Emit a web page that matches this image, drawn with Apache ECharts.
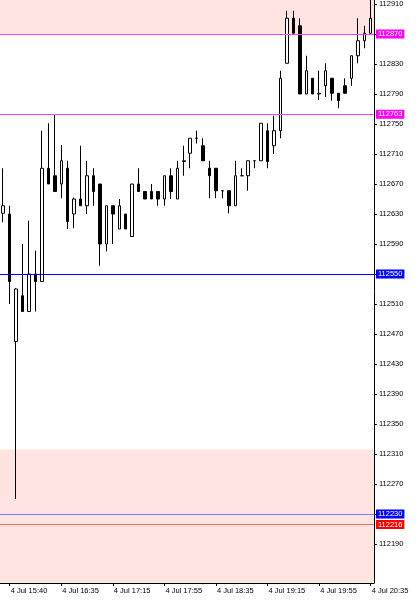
<!DOCTYPE html>
<html>
<head>
<meta charset="utf-8">
<script src="https://cdn.jsdelivr.net/npm/echarts@6/dist/echarts.min.js"></script>
<style>
  html, body { margin: 0; padding: 0; background: #fff; }
  #chart { width: 418px; height: 600px; }
</style>
</head>
<body>
<div id="chart"></div>
<script>
// Bar times (5-minute bars)
const times = [
  "4 Jul 15:35","4 Jul 15:40","4 Jul 15:45","4 Jul 16:05","4 Jul 16:10","4 Jul 16:15","4 Jul 16:20","4 Jul 16:25","4 Jul 16:30","4 Jul 16:35",
  "4 Jul 16:40","4 Jul 16:45","4 Jul 16:50","4 Jul 16:55","4 Jul 17:00","4 Jul 17:05","4 Jul 17:10","4 Jul 17:15","4 Jul 17:20","4 Jul 17:25",
  "4 Jul 17:30","4 Jul 17:35","4 Jul 17:40","4 Jul 17:45","4 Jul 17:50","4 Jul 17:55","4 Jul 18:00","4 Jul 18:05","4 Jul 18:10","4 Jul 18:15",
  "4 Jul 18:20","4 Jul 18:25","4 Jul 18:30","4 Jul 18:35","4 Jul 18:40","4 Jul 18:45","4 Jul 18:50","4 Jul 18:55","4 Jul 19:00","4 Jul 19:05",
  "4 Jul 19:10","4 Jul 19:15","4 Jul 19:20","4 Jul 19:25","4 Jul 19:30","4 Jul 19:35","4 Jul 19:40","4 Jul 19:45","4 Jul 19:50","4 Jul 19:55",
  "4 Jul 20:00","4 Jul 20:05","4 Jul 20:10","4 Jul 20:15","4 Jul 20:20","4 Jul 20:25","4 Jul 20:30","4 Jul 20:35"
];
const opens  = [112631,112630,112460,112521,112500,112550,112540,112691,112681,112670,
                112691,112630,112650,112641,112681,112670,112590,112641,112610,112630,
                112600,112670,112660,112660,112660,112650,112681,112650,112700,112711,
                112731,112721,112691,112691,112661,112661,112641,112681,112681,112701,
                112701,112741,112721,112741,112831,112891,112881,112790,112811,112790,
                112801,112811,112791,112801,112811,112841,112861,112871];
const highs  = [112691,112641,112531,112590,112621,112581,112741,112751,112762,112722,
                112701,112652,112721,112701,112691,112670,112641,112641,112650,112630,
                112670,112691,112660,112670,112660,112681,112691,112701,112721,112731,
                112741,112731,112701,112691,112661,112661,112701,112691,112701,112701,
                112751,112751,112761,112821,112901,112901,112891,112841,112811,112821,
                112831,112811,112791,112811,112841,112891,112881,112925];
const lows   = [112619,112510,112250,112500,112500,112500,112540,112670,112660,112651,
                112610,112611,112641,112630,112641,112561,112580,112590,112610,112610,
                112600,112660,112650,112650,112641,112641,112650,112650,112681,112691,
                112724,112701,112651,112651,112651,112631,112641,112681,112661,112691,
                112701,112691,112710,112731,112831,112871,112790,112790,112790,112782,
                112786,112781,112771,112791,112801,112831,112851,112871];
const closes = [112641,112540,112530,112500,112550,112540,112691,112670,112660,112701,
                112620,112650,112641,112681,112660,112590,112641,112630,112641,112610,
                112670,112660,112650,112650,112650,112681,112660,112691,112701,112731,
                112731,112701,112681,112661,112661,112641,112681,112681,112701,112701,
                112751,112700,112741,112811,112891,112871,112790,112821,112790,112791,
                112821,112791,112781,112791,112841,112861,112871,112891];

// Price tick labels on the right axis
const yTicks = [112190,112230,112270,112310,112350,112390,112430,112470,112510,112550,
                112590,112630,112670,112710,112750,112790,112830,112870,112910];
// Axis range
const yMin = 112138, yMax = 112915.33;
// Horizontal levels
const levelValues = [112870, 112763, 112550, 112230, 112216];
// Shaded zones [from, to]
const zoneUpper = [112870, yMax];
const zoneLower = [yMin, 112316];

const levelStyles = [
  { line: '#ff40ff', box: '#ff00ff' },
  { line: '#ff40ff', box: '#ff00ff' },
  { line: '#0000ff', box: '#0000ff' },
  { line: '#8080ff', box: '#0000ff' },
  { line: '#ff6a6a', box: '#ff0000' }
];

const candleData = opens.map((o, i) => [o, closes[i], lows[i], highs[i]]);
const labelEvery = (idx) => (idx - 1) % 8 === 0;
const FONT = 'Liberation Sans';

const chart = echarts.init(document.getElementById('chart'), null, { renderer: 'canvas' });
chart.setOption({
  animation: false,
  backgroundColor: '#ffffff',
  grid: { left: -3.05, right: 44.05, top: 0, bottom: 17 },
  xAxis: {
    type: 'category',
    data: times,
    boundaryGap: true,
    axisLine: { show: true, lineStyle: { color: '#000', width: 1 } },
    axisTick: { show: true, alignWithLabel: true, interval: labelEvery, length: 3, lineStyle: { color: '#000' } },
    axisLabel: { interval: labelEvery, align: 'left', color: '#000', fontSize: 7.5, fontFamily: FONT, margin: 4, padding: [0, 0, 0, 1] },
    splitLine: { show: false }
  },
  yAxis: {
    type: 'value',
    position: 'right',
    min: yMin,
    max: yMax,
    scale: true,
    axisLine: { show: true, lineStyle: { color: '#000', width: 1 } },
    axisTick: { show: true, inside: false, length: 3, customValues: yTicks, lineStyle: { color: '#000' } },
    axisLabel: { customValues: yTicks, formatter: (v) => String(Math.round(v)), color: '#000', fontSize: 7.5, fontFamily: FONT, margin: 5 },
    splitLine: { show: false }
  },
  series: [
    {
      type: 'line',
      data: [],
      z: 1,
      silent: true,
      markArea: {
        silent: true,
        itemStyle: { color: '#ffe4e1', borderWidth: 0 },
        label: { show: false },
        data: [
          [{ yAxis: zoneUpper[0] }, { yAxis: zoneUpper[1] }],
          [{ yAxis: zoneLower[0] }, { yAxis: zoneLower[1] }]
        ]
      }
    },
    {
      type: 'line',
      data: [],
      z: 2,
      silent: true,
      markLine: {
        silent: true,
        symbol: ['none', 'none'],
        animation: false,
        data: levelValues.map((v, i) => ({
          yAxis: v,
          lineStyle: { color: levelStyles[i].line, width: 1, type: 'solid' },
          label: {
            show: true,
            position: 'end',
            distance: 2,
            formatter: String(v),
            color: '#fff',
            backgroundColor: levelStyles[i].box,
            fontSize: 7.5,
            fontFamily: FONT,
            lineHeight: 8,
            padding: [1, 2, 0, 2]
          }
        }))
      }
    },
    {
      type: 'candlestick',
      z: 3,
      data: candleData,
      barWidth: 3,
      itemStyle: {
        color: '#ffffff',
        color0: '#000000',
        borderColor: '#000000',
        borderColor0: '#000000',
        borderWidth: 1
      }
    }
  ]
});
</script>
</body>
</html>
